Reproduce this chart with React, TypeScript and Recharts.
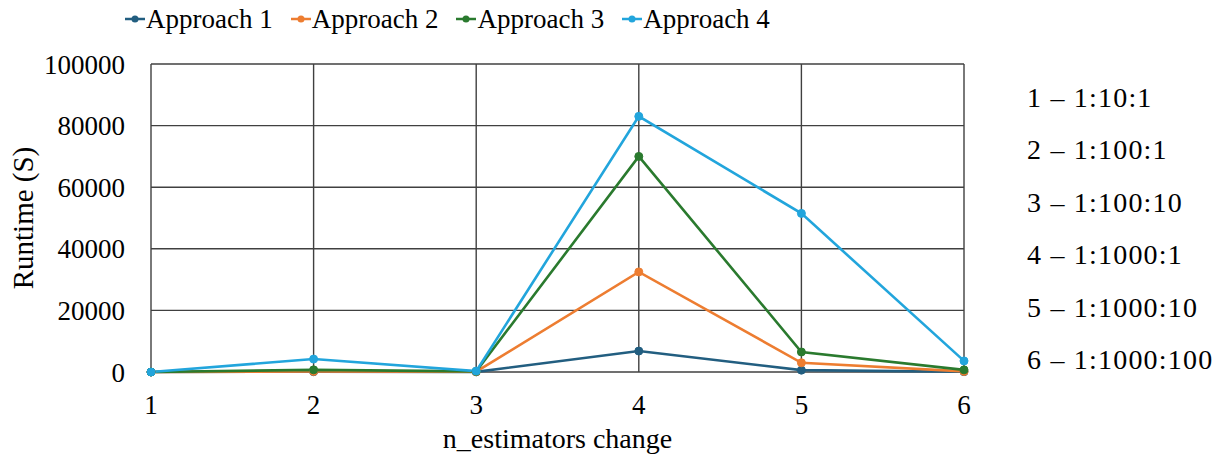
import React from 'react';
import { LineChart, Line, XAxis, YAxis, CartesianGrid, Legend } from 'recharts';

const categories = ['1', '2', '3', '4', '5', '6'];
const approach1 = [0, 100, 50, 6800, 600, 100];
const approach2 = [0, 200, 100, 32500, 3000, 200];
const approach3 = [0, 700, 200, 70000, 6500, 700];
const approach4 = [0, 4200, 300, 83000, 51500, 3600];
const yTicks = [0, 20000, 40000, 60000, 80000, 100000];
const mappingLabels = [
  '1 \u2013 1:10:1',
  '2 \u2013 1:100:1',
  '3 \u2013 1:100:10',
  '4 \u2013 1:1000:1',
  '5 \u2013 1:1000:10',
  '6 \u2013 1:1000:100',
];

const seriesDefs = [
  { key: 'a1', name: 'Approach 1', color: '#225E80', values: approach1 },
  { key: 'a2', name: 'Approach 2', color: '#ED7D31', values: approach2 },
  { key: 'a3', name: 'Approach 3', color: '#2A7A2E', values: approach3 },
  { key: 'a4', name: 'Approach 4', color: '#22A5DC', values: approach4 },
];

const data = categories.map((c, i) => {
  const row: any = { x: c };
  seriesDefs.forEach((s) => {
    row[s.key] = s.values[i];
  });
  return row;
});

const FONT = "'Liberation Serif', Tinos, 'Times New Roman', 'DejaVu Serif', serif";

const renderLegend = (props: any) => {
  const { payload } = props;
  return (
    <div style={{ display: 'flex', flexDirection: 'row', fontFamily: FONT, fontSize: 27, color: '#000' }}>
      {(payload || []).map((p: any, i: number) => (
        <div key={i} style={{ display: 'flex', alignItems: 'center', marginRight: 18 }}>
          <svg width={20} height={12} style={{ marginRight: 1 }}>
            <line x1={0} y1={6} x2={20} y2={6} stroke={p.color} strokeWidth={2.5} />
            <circle cx={10} cy={6} r={3.5} fill={p.color} />
          </svg>
          <span style={{ lineHeight: '30px' }}>{p.value}</span>
        </div>
      ))}
    </div>
  );
};

const YLabel = (props: any) => {
  const vb = props.viewBox || { x: 0, y: 0, width: 0, height: 0 };
  const cx = vb.x + 15;
  const cy = vb.y + vb.height / 2;
  return (
    <text
      x={cx}
      y={cy}
      transform={`rotate(-90, ${cx}, ${cy})`}
      textAnchor="middle"
      dominantBaseline="central"
      style={{ fontFamily: FONT }}
      fontSize={29}
      fill="#000"
    >
      Runtime (S)
    </text>
  );
};

const XLabel = (props: any) => {
  const vb = props.viewBox || { x: 0, y: 0, width: 0, height: 0 };
  return (
    <text
      x={vb.x + vb.width / 2}
      y={vb.y + vb.height - 4}
      textAnchor="middle"
      style={{ fontFamily: FONT }}
      fontSize={28}
      fill="#000"
    >
      n_estimators change
    </text>
  );
};

export default function App() {
  return (
    <div style={{ position: 'relative', width: 1207, height: 452, fontFamily: FONT }}>
      <LineChart
        width={1207}
        height={452}
        data={data}
        margin={{ top: 56, right: 251, bottom: 8, left: 0 }}
        style={{ overflow: 'visible', fontFamily: FONT }}
      >
        <CartesianGrid stroke="#404040" strokeWidth={1.4} />
        <XAxis
          dataKey="x"
          height={80}
          tickLine={false}
          axisLine={false}
          tickMargin={17}
          tick={{ fontSize: 27, fill: '#000', style: { fontFamily: FONT } }}
          label={<XLabel />}
        />
        <YAxis
          width={143}
          domain={[0, 100000]}
          ticks={yTicks}
          tickLine={false}
          axisLine={false}
          tickMargin={20}
          tick={{ fontSize: 27, fill: '#000', style: { fontFamily: FONT } }}
          label={<YLabel />}
        />
        <Legend
          verticalAlign="middle"
          layout="horizontal"
          wrapperStyle={{ top: -4, left: 117, width: 'auto' }}
          content={renderLegend}
        />
        {seriesDefs.map((s) => (
          <Line
            key={s.key}
            type="linear"
            dataKey={s.key}
            name={s.name}
            stroke={s.color}
            strokeWidth={2.6}
            dot={{ r: 4, fill: s.color, stroke: s.color, strokeWidth: 1 }}
            activeDot={false}
            isAnimationActive={false}
          />
        ))}
      </LineChart>
      {mappingLabels.map((t, i) => (
        <div
          key={i}
          style={{
            position: 'absolute',
            left: 1019,
            top: 76 + i * 52.4,
            fontFamily: FONT,
            fontSize: 28,
            lineHeight: '28px',
            letterSpacing: 1.2,
            whiteSpace: 'nowrap',
            color: '#000',
          }}
        >
          {t}
        </div>
      ))}
    </div>
  );
}
